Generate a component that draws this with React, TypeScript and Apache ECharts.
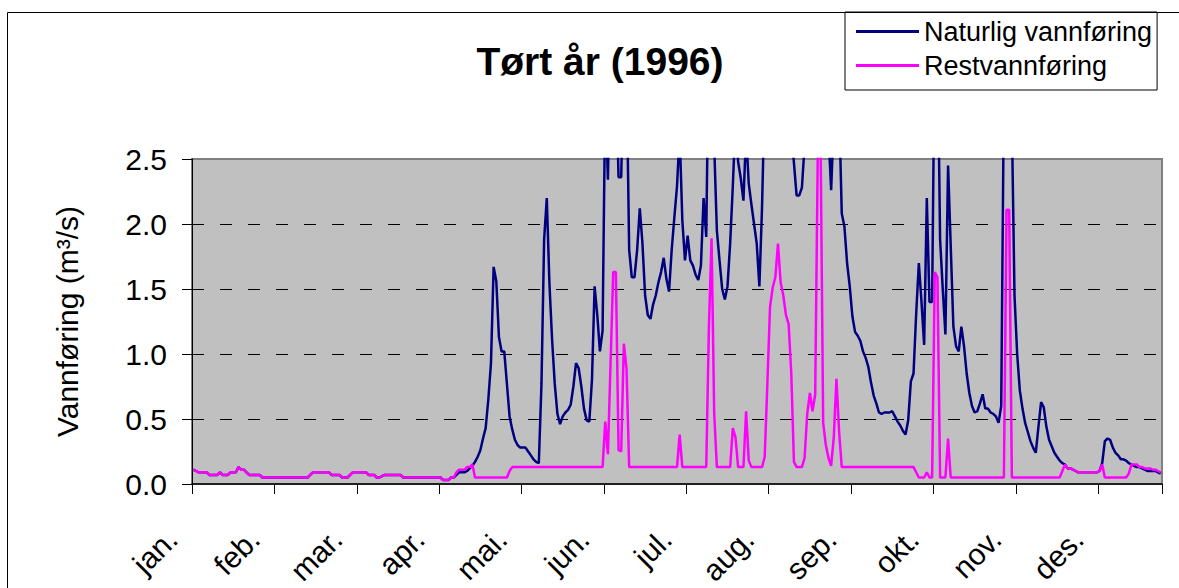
import React, { useEffect, useRef } from "react";
import * as echarts from "echarts";

const FONT = "'Liberation Sans', Arial, sans-serif";

const monthNames = ["jan.", "feb.", "mar.", "apr.", "mai.", "jun.", "jul.", "aug.", "sep.", "okt.", "nov.", "des."];
const monthDays = [31, 28, 31, 30, 31, 30, 31, 31, 30, 31, 30, 31];

const yMin = 0;
const yMax = 2.5;
const yStep = 0.5;

// Naturlig vannføring (m3/s), one value per day
const naturlig = [
  0.11, 0.10, 0.09, 0.09, 0.09, 0.09, 0.07, 0.07, 0.07, 0.07,
  0.09, 0.07, 0.07, 0.07, 0.09, 0.09, 0.09, 0.13, 0.11, 0.11,
  0.09, 0.07, 0.07, 0.07, 0.07, 0.07, 0.05, 0.05, 0.05, 0.05,
  0.05, 0.05, 0.05, 0.05, 0.05, 0.05, 0.05, 0.05, 0.05, 0.05,
  0.05, 0.05, 0.05, 0.05, 0.07, 0.09, 0.09, 0.09, 0.09, 0.09,
  0.09, 0.09, 0.07, 0.07, 0.07, 0.07, 0.05, 0.05, 0.05, 0.07,
  0.09, 0.09, 0.09, 0.09, 0.09, 0.09, 0.07, 0.07, 0.07, 0.05,
  0.05, 0.06, 0.07, 0.07, 0.07, 0.07, 0.07, 0.07, 0.07, 0.05,
  0.05, 0.05, 0.05, 0.05, 0.05, 0.05, 0.05, 0.05, 0.05, 0.05,
  0.05, 0.05, 0.05, 0.05, 0.03, 0.03, 0.03, 0.05, 0.05, 0.07,
  0.09, 0.09, 0.09, 0.10, 0.12, 0.14, 0.17, 0.21, 0.26, 0.35,
  0.43, 0.65, 0.93, 1.67, 1.56, 1.13, 1.02, 1.02, 0.77, 0.52,
  0.42, 0.34, 0.30, 0.28, 0.28, 0.28, 0.25, 0.22, 0.19, 0.17,
  0.16, 0.77, 1.88, 2.20, 1.54, 1.11, 0.77, 0.54, 0.46, 0.52,
  0.55, 0.57, 0.61, 0.75, 0.93, 0.89, 0.75, 0.58, 0.49, 0.48,
  0.80, 1.52, 1.30, 1.02, 1.18, 3.00, 2.34, 3.40, 3.60, 3.20,
  2.36, 2.36, 3.30, 3.20, 1.80, 1.59, 1.59, 1.80, 2.12, 1.85,
  1.45, 1.30, 1.27, 1.38, 1.45, 1.55, 1.63, 1.74, 1.58, 1.48,
  1.80, 2.05, 2.29, 2.70, 2.03, 1.72, 1.91, 1.72, 1.68, 1.61,
  1.57, 1.68, 2.20, 1.90, 3.50, 3.50, 2.60, 1.95, 1.72, 1.50,
  1.42, 1.52, 1.85, 2.29, 2.80, 2.48, 2.35, 2.18, 2.70, 2.31,
  2.15, 2.00, 1.85, 1.52, 2.13, 3.00, 3.40, 3.80, 4.00, 3.90,
  3.70, 3.50, 3.30, 3.10, 2.90, 2.70, 2.47, 2.22, 2.22, 2.28,
  2.60, 3.20, 3.50, 3.80, 4.20, 4.50, 4.00, 3.50, 3.00, 2.70,
  2.26, 2.80, 3.00, 2.90, 2.08, 1.98, 1.70, 1.52, 1.29, 1.17,
  1.14, 1.10, 1.02, 0.97, 0.90, 0.78, 0.68, 0.62, 0.55, 0.54,
  0.55, 0.55, 0.55, 0.56, 0.52, 0.48, 0.45, 0.41, 0.38, 0.49,
  0.79, 0.85, 1.31, 1.70, 1.40, 1.07, 2.20, 1.40, 1.40, 3.50,
  3.50, 1.88, 1.50, 1.15, 2.45, 1.83, 1.21, 1.06, 1.02, 1.21,
  1.06, 0.85, 0.70, 0.60, 0.55, 0.56, 0.62, 0.69, 0.58, 0.58,
  0.55, 0.54, 0.52, 0.47, 0.60, 3.00, 3.80, 4.00, 2.80, 1.45,
  1.00, 0.72, 0.58, 0.47, 0.40, 0.33, 0.28, 0.24, 0.44, 0.63,
  0.59, 0.44, 0.34, 0.29, 0.24, 0.21, 0.18, 0.16, 0.15, 0.12,
  0.12, 0.11, 0.10, 0.09, 0.09, 0.09, 0.09, 0.09, 0.09, 0.09,
  0.09, 0.10, 0.16, 0.33, 0.35, 0.34, 0.28, 0.24, 0.22, 0.19,
  0.19, 0.18, 0.16, 0.15, 0.14, 0.13, 0.13, 0.12, 0.11, 0.10,
  0.10, 0.10, 0.10, 0.09, 0.08,
];

// Restvannføring (m3/s), one value per day
const rest = [
  0.11, 0.10, 0.09, 0.09, 0.09, 0.09, 0.07, 0.07, 0.07, 0.07,
  0.09, 0.07, 0.07, 0.07, 0.09, 0.09, 0.09, 0.13, 0.11, 0.11,
  0.09, 0.07, 0.07, 0.07, 0.07, 0.07, 0.05, 0.05, 0.05, 0.05,
  0.05, 0.05, 0.05, 0.05, 0.05, 0.05, 0.05, 0.05, 0.05, 0.05,
  0.05, 0.05, 0.05, 0.05, 0.07, 0.09, 0.09, 0.09, 0.09, 0.09,
  0.09, 0.09, 0.07, 0.07, 0.07, 0.07, 0.05, 0.05, 0.05, 0.07,
  0.09, 0.09, 0.09, 0.09, 0.09, 0.09, 0.07, 0.07, 0.07, 0.05,
  0.05, 0.06, 0.07, 0.07, 0.07, 0.07, 0.07, 0.07, 0.07, 0.05,
  0.05, 0.05, 0.05, 0.05, 0.05, 0.05, 0.05, 0.05, 0.05, 0.05,
  0.05, 0.05, 0.05, 0.05, 0.03, 0.03, 0.03, 0.05, 0.05, 0.09,
  0.11, 0.11, 0.11, 0.13, 0.13, 0.15, 0.05, 0.05, 0.05, 0.05,
  0.05, 0.05, 0.05, 0.05, 0.05, 0.05, 0.05, 0.05, 0.05, 0.10,
  0.13, 0.13, 0.13, 0.13, 0.13, 0.13, 0.13, 0.13, 0.13, 0.13,
  0.13, 0.13, 0.13, 0.13, 0.13, 0.13, 0.13, 0.13, 0.13, 0.13,
  0.13, 0.13, 0.13, 0.13, 0.13, 0.13, 0.13, 0.13, 0.13, 0.13,
  0.13, 0.13, 0.13, 0.13, 0.13, 0.48, 0.23, 0.93, 1.63, 1.63,
  0.26, 0.25, 1.08, 0.89, 0.13, 0.13, 0.13, 0.13, 0.13, 0.13,
  0.13, 0.13, 0.13, 0.13, 0.13, 0.13, 0.13, 0.13, 0.13, 0.13,
  0.13, 0.13, 0.13, 0.38, 0.13, 0.13, 0.13, 0.13, 0.13, 0.13,
  0.13, 0.13, 0.13, 0.13, 1.20, 1.89, 0.54, 0.13, 0.13, 0.13,
  0.13, 0.13, 0.13, 0.43, 0.36, 0.13, 0.13, 0.13, 0.56, 0.18,
  0.13, 0.13, 0.13, 0.13, 0.13, 0.21, 0.77, 1.36, 1.51, 1.59,
  1.85, 1.55, 1.45, 1.30, 1.23, 0.85, 0.17, 0.13, 0.13, 0.13,
  0.20, 0.54, 0.70, 0.56, 0.69, 2.60, 2.70, 0.47, 0.30, 0.20,
  0.14, 0.36, 0.81, 0.40, 0.13, 0.13, 0.13, 0.13, 0.13, 0.13,
  0.13, 0.13, 0.13, 0.13, 0.13, 0.13, 0.13, 0.13, 0.13, 0.13,
  0.13, 0.13, 0.13, 0.13, 0.13, 0.13, 0.13, 0.13, 0.13, 0.13,
  0.13, 0.13, 0.09, 0.05, 0.05, 0.05, 0.09, 0.05, 0.05, 1.63,
  1.59, 0.05, 0.05, 0.05, 0.35, 0.05, 0.05, 0.05, 0.05, 0.05,
  0.05, 0.05, 0.05, 0.05, 0.05, 0.05, 0.05, 0.05, 0.05, 0.05,
  0.05, 0.05, 0.05, 0.05, 0.05, 0.05, 2.11, 2.11, 0.05, 0.05,
  0.05, 0.05, 0.05, 0.05, 0.05, 0.05, 0.05, 0.05, 0.05, 0.05,
  0.05, 0.05, 0.05, 0.05, 0.05, 0.05, 0.05, 0.10, 0.15, 0.12,
  0.12, 0.11, 0.10, 0.09, 0.09, 0.09, 0.09, 0.09, 0.09, 0.09,
  0.09, 0.10, 0.15, 0.05, 0.05, 0.05, 0.05, 0.05, 0.05, 0.05,
  0.05, 0.05, 0.08, 0.15, 0.15, 0.15, 0.13, 0.13, 0.12, 0.12,
  0.12, 0.11, 0.11, 0.10, 0.09,
];

export default function App() {
  const ref = useRef<HTMLDivElement>(null);

  useEffect(() => {
    if (!ref.current) return;
    const chart = echarts.init(ref.current, null, { renderer: "svg" });

    const days: string[] = [];
    monthNames.forEach((m, mi) => {
      for (let d = 1; d <= monthDays[mi]; d++) days.push(m + " " + d);
    });

    chart.setOption({
      animation: false,
      backgroundColor: "#ffffff",
      textStyle: { fontFamily: FONT },
      title: {
        text: "Tørt år (1996)",
        left: 595,
        top: 37,
        textAlign: "center",
        textStyle: { fontSize: 39, fontWeight: "bold", color: "#000", fontFamily: FONT },
      },
      legend: {
        left: 845,
        top: 12,
        orient: "vertical",
        icon: "rect",
        itemWidth: 63,
        itemHeight: 3,
        itemGap: 7,
        padding: [6, 5, 11, 11],
        backgroundColor: "#ffffff",
        borderColor: "#000",
        borderWidth: 1,
        selectedMode: false,
        textStyle: { fontSize: 27, color: "#000", fontFamily: FONT },
        data: ["Naturlig vannføring", "Restvannføring"],
      },
      grid: {
        left: 192,
        right: 17,
        top: 159,
        bottom: 104,
        show: true,
        outerBoundsMode: "none",
        containLabel: false,
        backgroundColor: "#c0c0c0",
        borderColor: "#808080",
        borderWidth: 2,
      },
      xAxis: {
        type: "category",
        data: days,
        boundaryGap: true,
        axisLine: { lineStyle: { color: "#000", width: 1.5 } },
        axisTick: { show: true, interval: 30, length: 10, lineStyle: { color: "#000", width: 1 } },
        axisLabel: {
          interval: 30,
          rotate: 45,
          fontSize: 30,
          color: "#000",
          fontFamily: FONT,
          margin: 29,
          padding: [0, 30, 0, 0],
          formatter: (v: string) => v.split(" ")[0],
        },
        splitLine: { show: false },
      },
      yAxis: {
        type: "value",
        min: yMin,
        max: yMax,
        interval: yStep,
        name: "Vannføring (m³/s)",
        nameLocation: "middle",
        nameGap: 110,
        nameTextStyle: { fontSize: 30, color: "#000", fontFamily: FONT },
        axisLine: { show: true, lineStyle: { color: "#000", width: 1 } },
        axisTick: { show: true, length: 10, lineStyle: { color: "#000" } },
        axisLabel: {
          fontSize: 30,
          color: "#000",
          fontFamily: FONT,
          margin: 25,
          formatter: (v: number) => v.toFixed(1),
        },
        splitLine: {
          show: true,
          showMinLine: false,
          showMaxLine: false,
          lineStyle: { color: "#000", width: 1, type: [12, 16] },
        },
      },
      series: [
        {
          name: "Naturlig vannføring",
          type: "line",
          data: naturlig,
          symbol: "none",
          showSymbol: false,
          lineStyle: { color: "#000080", width: 2.5 },
          itemStyle: { color: "#000080" },
        },
        {
          name: "Restvannføring",
          type: "line",
          data: rest,
          symbol: "none",
          showSymbol: false,
          lineStyle: { color: "#ff00ff", width: 2.5 },
          itemStyle: { color: "#ff00ff" },
        },
      ],
      graphic: [
        {
          type: "rect",
          silent: true,
          z: 100,
          shape: { x: 7.5, y: 12.5, width: 1400, height: 900 },
          style: { fill: "none", stroke: "#000", lineWidth: 1 },
        },
      ],
    });

    return () => chart.dispose();
  }, []);

  return (
    <div
      ref={ref}
      style={{ position: "fixed", left: 0, top: 0, width: 1179, height: 588, background: "#fff" }}
    />
  );
}
